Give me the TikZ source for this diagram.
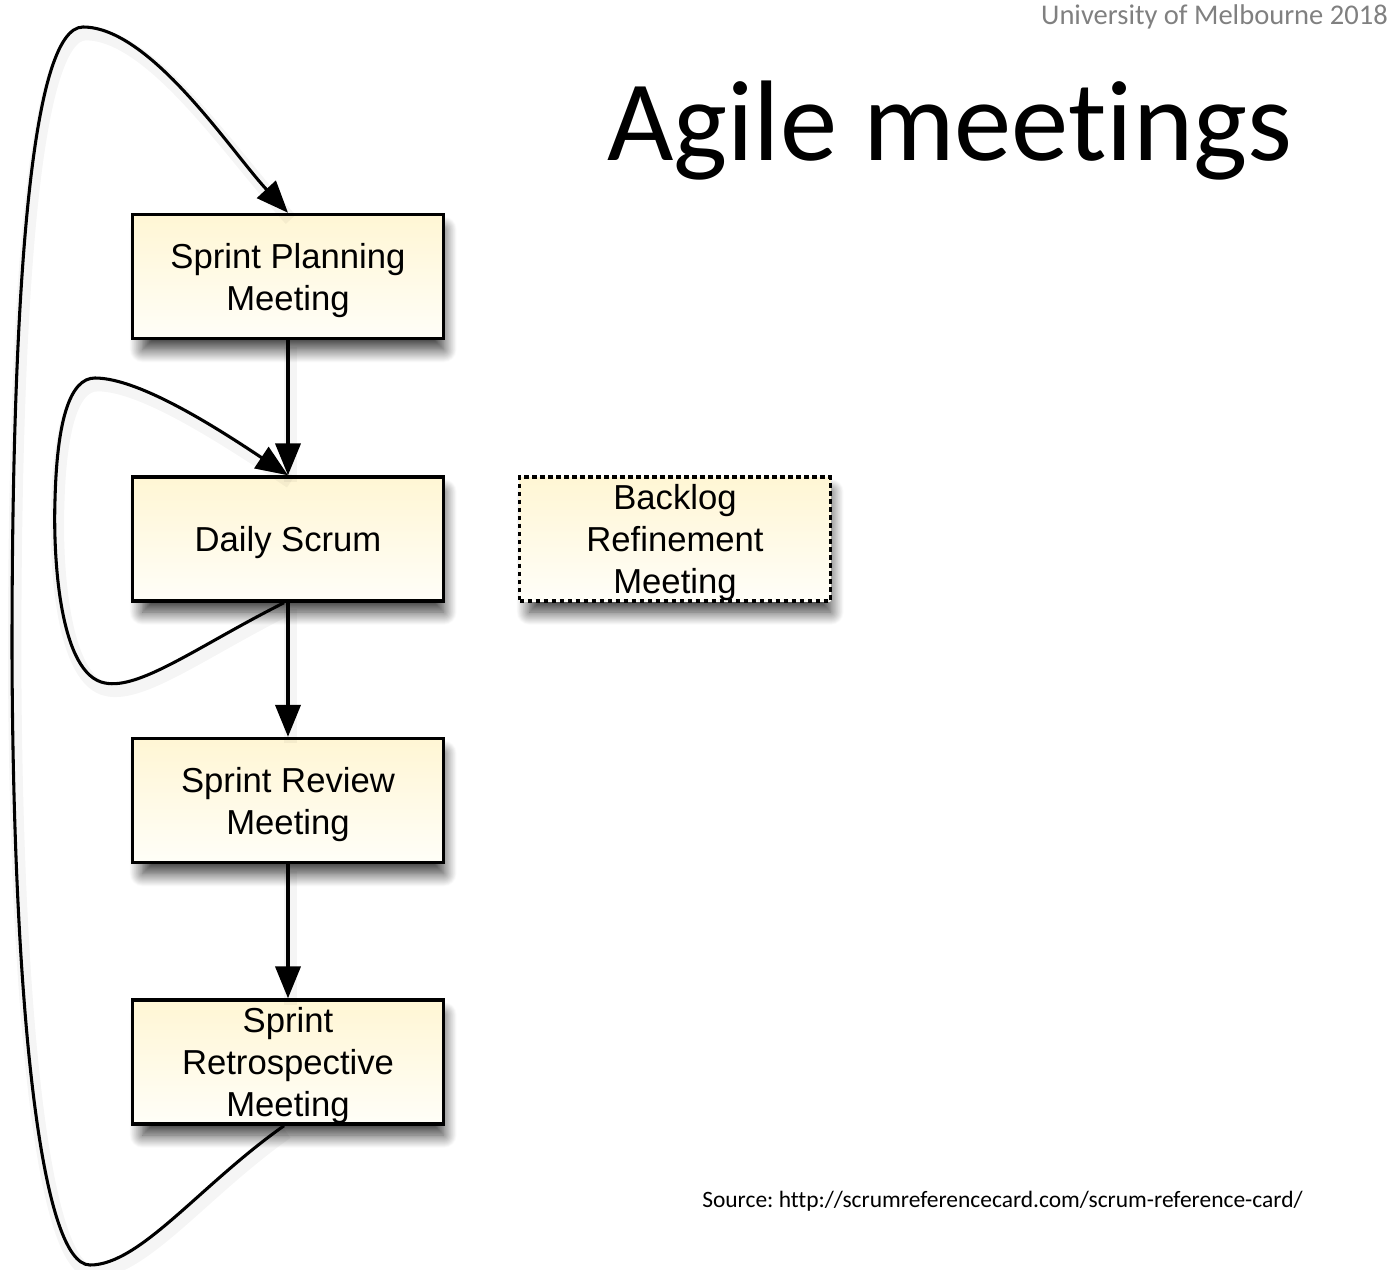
\documentclass[tikz,border=0pt]{standalone}
\usepackage{fontspec}
\setmainfont{Liberation Sans}
\newfontfamily\calib[Ligatures=NoCommon]{Carlito}
\usetikzlibrary{arrows.meta,shadows.blur,calc}
\definecolor{boxtop}{RGB}{255,246,212}
\definecolor{boxbot}{RGB}{255,254,248}
\definecolor{univgray}{RGB}{128,128,128}
\tikzset{
 meet/.style={draw=black, line width=2.6pt, top color=boxtop, bottom color=boxbot,
   minimum width=233pt, minimum height=93pt, inner sep=0pt, align=center,
   font=\fontsize{26}{31.5}\selectfont, text depth=0pt,
   blur shadow={shadow xshift=4pt, shadow yshift=-10pt, shadow scale=0.97, shadow blur radius=10pt, shadow blur steps=20, shadow opacity=80}},
 optmeet/.style={meet, dash pattern=on 3.5pt off 2.5pt},
 flow/.style={line width=2.3pt, -{Triangle[length=24pt,width=19pt]},
   preaction={draw=black, arrows=-, opacity=0.04, line width=10pt, transform canvas={shift={(2pt,-5pt)}}}}
}
\begin{document}
\begin{tikzpicture}[x=0.75pt,y=-0.75pt]
\useasboundingbox (0,0) rectangle (1396,1270);
\node[anchor=base east, font=\calib\fontsize{21.4}{24}\selectfont, text=univgray, inner sep=0pt] (univ) at (1388,25) {University of Melbourne 2018};
\node[anchor=base west, font=\calib\fontsize{86}{90}\selectfont, inner sep=0pt] (title) at (607,160) {Agile meetings};
\node[anchor=base west, font=\calib\fontsize{17.6}{20}\selectfont\frenchspacing, inner sep=0pt] (src) at (702,1207) {Source: http://scrumreferencecard.com/scrum-reference-card/};

\node[meet] (plan) at (288,276.5) {Sprint Planning\\Meeting};
\node[meet] (daily) at (288,539) {Daily Scrum};
\node[meet] (review) at (288,800.5) {Sprint Review\\Meeting};
\node[meet] (retro) at (288,1062) {Sprint\\Retrospective\\Meeting};
\node[optmeet] (backlog) at (675,539) {Backlog\\Refinement\\Meeting};

\draw[flow] (plan) -- (daily);
\draw[flow] (daily) -- (review);
\draw[flow] (review) -- (retro);

\draw[flow] ($(daily.south)+(-4,0)$) .. controls (200,645) and (140,690) .. (105,683)
  .. controls (60,675) and (53,560) .. (55,500)
  .. controls (57,420) and (70,378) .. (95,378)
  .. controls (140,378) and (220,430) .. (daily.north);

\draw[flow] ($(retro.south)+(-4,0)$) .. controls (200,1185) and (140,1265) .. (90,1265)
  .. controls (40,1265) and (13,1000) .. (12,650)
  .. controls (12,300) and (30,27) .. (83,27)
  .. controls (150,27) and (230,150) .. (plan.north);
\end{tikzpicture}
\end{document}
